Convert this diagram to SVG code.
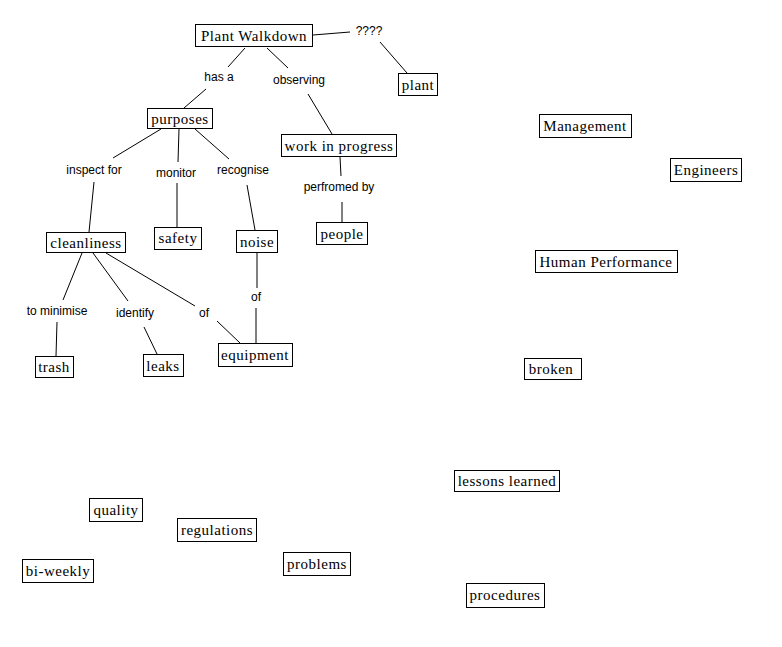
<svg xmlns="http://www.w3.org/2000/svg" width="782" height="647" viewBox="0 0 782 647">
<style>
.n rect{fill:#fff;stroke:#000;stroke-width:1}
.n text{font-family:"Liberation Serif","Times New Roman",serif;font-size:15px;letter-spacing:0.5px;text-anchor:middle;fill:#000}
.l{font-family:"Liberation Sans",Arial,sans-serif;font-size:12px;text-anchor:middle;fill:#000}
#c line{stroke:#000;stroke-width:1}
</style>
<rect width="782" height="647" fill="#fff"/>
<g id="c">
<line x1="313" y1="35" x2="350" y2="32"/>
<line x1="380" y1="42" x2="407" y2="73"/>
<line x1="245" y1="48" x2="228" y2="67"/>
<line x1="206" y1="89" x2="184" y2="108"/>
<line x1="267" y1="48" x2="288" y2="68"/>
<line x1="308" y1="94" x2="332" y2="134"/>
<line x1="161" y1="129" x2="113" y2="158"/>
<line x1="94" y1="182" x2="89" y2="232"/>
<line x1="179" y1="129" x2="178" y2="162"/>
<line x1="177" y1="183" x2="177" y2="227"/>
<line x1="195" y1="129" x2="229" y2="159"/>
<line x1="247" y1="185" x2="255" y2="230"/>
<line x1="340" y1="157" x2="341" y2="176"/>
<line x1="342" y1="202" x2="342" y2="222"/>
<line x1="82" y1="253" x2="63" y2="300"/>
<line x1="57" y1="322" x2="56" y2="356"/>
<line x1="93" y1="253" x2="128" y2="301"/>
<line x1="144" y1="327" x2="157" y2="354"/>
<line x1="106" y1="253" x2="195" y2="306"/>
<line x1="217" y1="321" x2="240" y2="343"/>
<line x1="257" y1="252" x2="257" y2="288"/>
<line x1="256" y1="308" x2="256" y2="343"/>
</g>
<text class="l" x="369" y="35">????</text>
<text class="l" x="219" y="81">has a</text>
<text class="l" x="299" y="84">observing</text>
<text class="l" x="94" y="174">inspect for</text>
<text class="l" x="176" y="177">monitor</text>
<text class="l" x="243" y="174">recognise</text>
<text class="l" x="339" y="191">perfromed by</text>
<text class="l" x="57" y="315">to minimise</text>
<text class="l" x="135" y="317">identify</text>
<text class="l" x="204" y="317">of</text>
<text class="l" x="256" y="301">of</text>
<g id="n-plantwalkdown" class="n"><rect x="195.5" y="24.5" width="117" height="22"/><text x="254" y="41">Plant Walkdown</text></g>
<g id="n-plant" class="n"><rect x="398.5" y="73.5" width="39" height="22"/><text x="418" y="90">plant</text></g>
<g id="n-purposes" class="n"><rect x="147.5" y="108.5" width="65" height="20"/><text x="180" y="124">purposes</text></g>
<g id="n-wip" class="n"><rect x="281.5" y="134.5" width="115" height="22"/><text x="339" y="151">work in progress</text></g>
<g id="n-safety" class="n"><rect x="154.5" y="227.5" width="47" height="22"/><text x="178" y="243">safety</text></g>
<g id="n-noise" class="n"><rect x="236.5" y="230.5" width="41" height="22"/><text x="257" y="247">noise</text></g>
<g id="n-people" class="n"><rect x="316.5" y="222.5" width="51" height="22"/><text x="342" y="239">people</text></g>
<g id="n-cleanliness" class="n"><rect x="46.5" y="232.5" width="79" height="20"/><text x="86" y="248">cleanliness</text></g>
<g id="n-trash" class="n"><rect x="35.5" y="356.5" width="38" height="21"/><text x="54" y="372">trash</text></g>
<g id="n-leaks" class="n"><rect x="143.5" y="354.5" width="40" height="22"/><text x="163" y="371">leaks</text></g>
<g id="n-equipment" class="n"><rect x="218.5" y="343.5" width="74" height="23"/><text x="255" y="360">equipment</text></g>
<g id="n-management" class="n"><rect x="539.5" y="114.5" width="92" height="23"/><text x="585" y="131">Management</text></g>
<g id="n-engineers" class="n"><rect x="670.5" y="158.5" width="71" height="23"/><text x="706" y="175">Engineers</text></g>
<g id="n-humanperformance" class="n"><rect x="535.5" y="250.5" width="142" height="22"/><text x="606" y="267">Human Performance</text></g>
<g id="n-broken" class="n"><rect x="524.5" y="358.5" width="57" height="21"/><text x="551" y="374">broken</text></g>
<g id="n-lessonslearned" class="n"><rect x="454.5" y="470.5" width="105" height="21"/><text x="507" y="486">lessons learned</text></g>
<g id="n-procedures" class="n"><rect x="466.5" y="583.5" width="78" height="24"/><text x="505" y="600">procedures</text></g>
<g id="n-quality" class="n"><rect x="89.5" y="498.5" width="53" height="23"/><text x="116" y="515">quality</text></g>
<g id="n-regulations" class="n"><rect x="177.5" y="518.5" width="79" height="23"/><text x="217" y="535">regulations</text></g>
<g id="n-biweekly" class="n"><rect x="22.5" y="559.5" width="71" height="23"/><text x="58" y="576">bi-weekly</text></g>
<g id="n-problems" class="n"><rect x="283.5" y="552.5" width="67" height="23"/><text x="317" y="569">problems</text></g>
</svg>
